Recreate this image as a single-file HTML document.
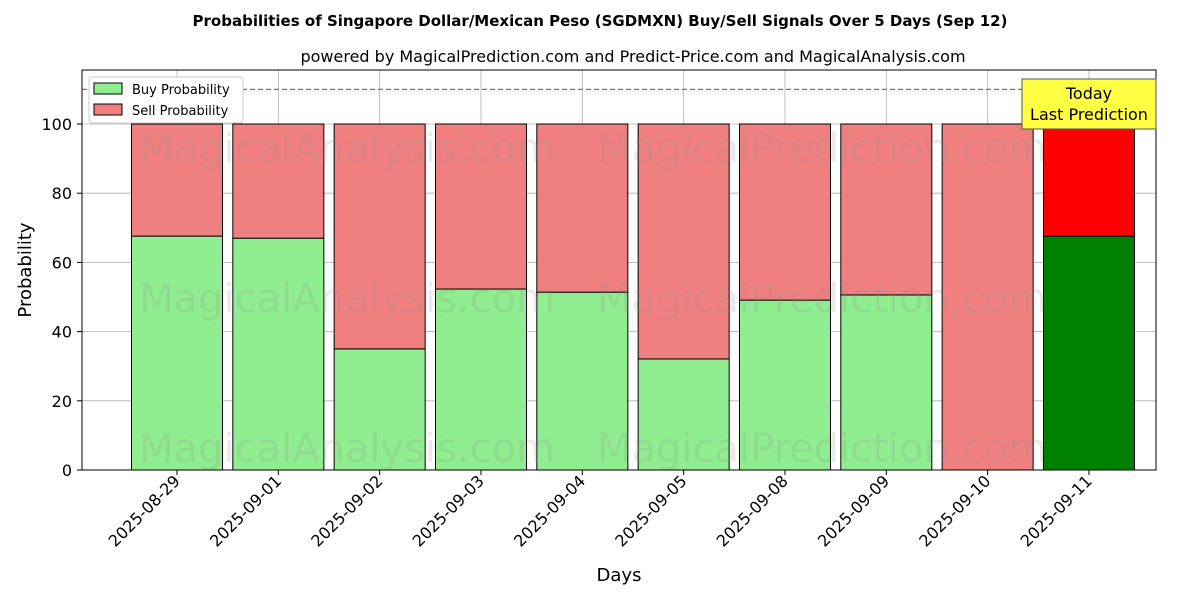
<!DOCTYPE html>
<html><head><meta charset="utf-8"><style>
body{margin:0;background:#fff;font-family:"Liberation Sans","DejaVu Sans",sans-serif;}
svg text{font-family:"DejaVu Sans","Liberation Sans",sans-serif;}
</style></head><body>
<svg id="chart" width="1200" height="600" xmlns="http://www.w3.org/2000/svg">
<text x="600" y="26" text-anchor="middle" font-size="15" font-weight="bold">Probabilities of Singapore Dollar/Mexican Peso (SGDMXN) Buy/Sell Signals Over 5 Days (Sep 12)</text>
<text x="633" y="62" text-anchor="middle" font-size="16">powered by MagicalPrediction.com and Predict-Price.com and MagicalAnalysis.com</text>
<g id="grid"></g>
<g id="bars"></g>
<g id="wm" fill="#888" fill-opacity="0.18" font-size="40">
<text x="347" y="162" text-anchor="middle">MagicalAnalysis.com</text>
<text x="822" y="162" text-anchor="middle">MagicalPrediction.com</text>
<text x="347" y="312" text-anchor="middle">MagicalAnalysis.com</text>
<text x="822" y="312" text-anchor="middle">MagicalPrediction.com</text>
<text x="347" y="462" text-anchor="middle">MagicalAnalysis.com</text>
<text x="822" y="462" text-anchor="middle">MagicalPrediction.com</text>
</g>
<g id="axes"></g>
<rect x="82" y="70" width="1074" height="400" fill="none" stroke="#000" stroke-width="1"/>
<g>
<rect x="89" y="77" width="154" height="46" fill="#fff" stroke="#ccc" rx="3"/>
<rect x="94" y="83" width="28" height="11" fill="#90ee90" stroke="#000"/>
<text x="132" y="94" font-size="13">Buy Probability</text>
<rect x="94" y="104" width="28" height="11" fill="#f08080" stroke="#000"/>
<text x="132" y="115" font-size="13">Sell Probability</text>
</g>
<g>
<rect x="1022" y="79" width="134" height="50" fill="#ffff44" stroke="#555"/>
<text x="1089" y="99" text-anchor="middle" font-size="16">Today</text>
<text x="1089" y="120" text-anchor="middle" font-size="16">Last Prediction</text>
</g>
<text x="619" y="581" text-anchor="middle" font-size="18">Days</text>
<text transform="translate(31,270) rotate(-90)" text-anchor="middle" font-size="18">Probability</text>
</svg>
<script>
const categories=["2025-08-29","2025-09-01","2025-09-02","2025-09-03","2025-09-04","2025-09-05","2025-09-08","2025-09-09","2025-09-10","2025-09-11"];
const buyValues=[67.6,67.0,35.0,52.3,51.4,32.1,49.1,50.6,0,67.6];
const sellValues=[32.4,33.0,65.0,47.7,48.6,67.9,50.9,49.4,100,32.4];
const yTicks=[0,20,40,60,80,100];
const NS="http://www.w3.org/2000/svg";
const y=v=>470-v*3.46;
const x=i=>177+i*101.33;
const bw=91;
function mk(tag,attrs,parent){const e=document.createElementNS(NS,tag);for(const k in attrs)e.setAttribute(k,attrs[k]);parent.appendChild(e);return e;}
const grid=document.getElementById('grid'),bars=document.getElementById('bars'),axes=document.getElementById('axes');
yTicks.forEach(t=>{
 const l=mk('line',{x1:82,x2:1156,y1:y(t),y2:y(t),stroke:'#b0b0b0','stroke-width':0.8},grid);
 
 
 const tk=mk('line',{x1:77,x2:82,y1:y(t),y2:y(t),stroke:'#000'},axes);
 
 
 const tx=mk('text',{x:72,y:y(t)+6,'text-anchor':'end','font-size':16},axes);
 tx.textContent=t;
 
 
});
categories.forEach((c,i)=>{
 const g=mk('line',{x1:x(i),x2:x(i),y1:70,y2:470,stroke:'#b0b0b0','stroke-width':0.8},grid);
 
 
 const last=i===categories.length-1;
 const b=mk('rect',{x:x(i)-bw/2,y:y(buyValues[i]),width:bw,height:buyValues[i]*3.46,fill:last?'#008000':'#90ee90',stroke:'#000','stroke-width':1},bars);
 
 
 const s=mk('rect',{x:x(i)-bw/2,y:y(buyValues[i]+sellValues[i]),width:bw,height:sellValues[i]*3.46,fill:last?'#ff0000':'#f08080',stroke:'#000','stroke-width':1},bars);
 
 
 const tk=mk('line',{x1:x(i),x2:x(i),y1:470,y2:475,stroke:'#000'},axes);
 
 
 const tx=mk('text',{x:x(i)+4,y:482,'text-anchor':'end','font-size':16,transform:`rotate(-45 ${x(i)+4} 482)`},axes);
 tx.textContent=c;
 
 
});
const ref=mk('line',{x1:82,x2:1156,y1:y(110),y2:y(110),stroke:'#777','stroke-dasharray':'5,3','stroke-width':1.2},axes);


</script>
</body></html>
